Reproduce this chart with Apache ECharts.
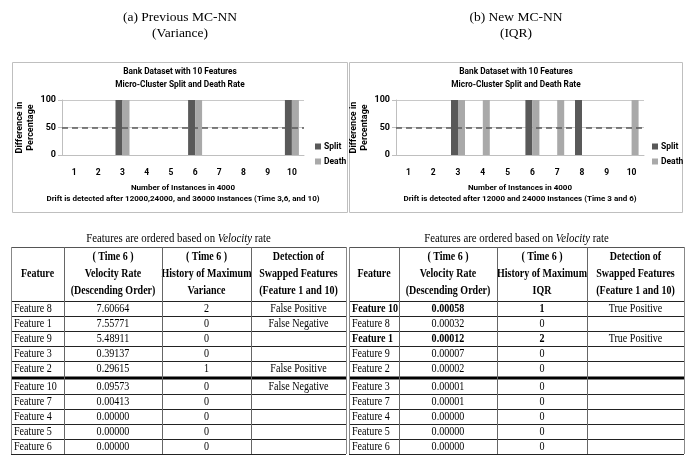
<!DOCTYPE html>
<html><head><meta charset="utf-8">
<script src="https://cdn.jsdelivr.net/npm/echarts@6/dist/echarts.min.js"></script>
<style>html,body{margin:0;padding:0;background:#fff}#c{width:697px;height:455px}</style>
</head><body><div id="c"></div>
<script>
// ---------- data ----------
const categories = ['1','2','3','4','5','6','7','8','9','10'];
const splitA = [0,0,100,0,0,100,0,0,0,100];
const deathA = [0,0,100,0,0,100,0,0,0,100];
const splitB = [0,0,100,0,0,100,0,100,0,0];
const deathB = [0,0,100,100,0,100,100,0,0,100];
const thresholdValue = 50;
const panelTitleA = ['(a) Previous MC-NN','(Variance)'];
const panelTitleB = ['(b) New MC-NN','(IQR)'];
const chartTitle = 'Bank Dataset with 10 Features\nMicro-Cluster Split and Death Rate';
const yName = 'Difference in\nPercentage';
const xNameA = 'Number of Instances in 4000\nDrift is detected after 12000,24000, and 36000 Instances (Time 3,6, and 10)';
const xNameB = 'Number of Instances in 4000\nDrift is detected after 12000 and 24000 Instances (Time 3 and 6)';

const headersA = [['Feature'],['( Time 6 )','Velocity Rate','(Descending Order)'],['( Time 6 )','History of Maximum','Variance'],['Detection of','Swapped Features','(Feature 1 and 10)']];
const headersB = [['Feature'],['( Time 6 )','Velocity Rate','(Descending Order)'],['( Time 6 )','History of Maximum','IQR'],['Detection of','Swapped Features','(Feature 1 and 10)']];
const featuresA = ['Feature 8','Feature 1','Feature 9','Feature 3','Feature 2','Feature 10','Feature 7','Feature 4','Feature 5','Feature 6'];
const velocityA = ['7.60664','7.55771','5.48911','0.39137','0.29615','0.09573','0.00413','0.00000','0.00000','0.00000'];
const historyA = ['2','0','0','0','1','0','0','0','0','0'];
const detectionA = ['False Positive','False Negative','','','False Positive','False Negative','','','',''];
const featuresB = ['Feature 10','Feature 8','Feature 1','Feature 9','Feature 2','Feature 3','Feature 7','Feature 4','Feature 5','Feature 6'];
const velocityB = ['0.00058','0.00032','0.00012','0.00007','0.00002','0.00001','0.00001','0.00000','0.00000','0.00000'];
const historyB = ['1','0','2','0','0','0','0','0','0','0'];
const detectionB = ['True Positive','','True Positive','','','','','','',''];
const boldRowsA = [];
const boldRowsB = [0,2];
const tableCaption = 'Features are ordered based on {i|Velocity} rate';

// ---------- layout ----------
const SANS = 'Roboto, "Liberation Sans", sans-serif';
const SERIF = '"Liberation Serif", "DejaVu Serif", serif';
const SPLIT_C = '#595959', DEATH_C = '#a9a9a9';
const SQUEEZE = 0.84, HEAD_SQUEEZE = 0.8;

const chart = echarts.init(document.getElementById('c'), null, {renderer:'canvas', width:697, height:455});

function axisPair(gi, xName){
  return {
    x: {gridIndex:gi, type:'category', data:categories,
      axisLine:{lineStyle:{color:'#bfbfbf'}},
      axisTick:{length:4, lineStyle:{color:'#bfbfbf'}},
      axisLabel:{color:'#000', fontFamily:SANS, fontWeight:'bold', fontSize:8.5, margin:13},
      name:xName, nameLocation:'middle', nameGap:27,
      nameTextStyle:{color:'#000', fontFamily:SANS, fontWeight:'bold', fontSize:8, lineHeight:11}},
    y: {gridIndex:gi, type:'value', min:0, max:100, interval:50,
      axisLine:{show:true, lineStyle:{color:'#bfbfbf'}},
      axisTick:{show:true, length:4, lineStyle:{color:'#bfbfbf'}},
      splitLine:{lineStyle:{color:'#c8c8c8'}},
      axisLabel:{color:'#000', fontFamily:SANS, fontWeight:'bold', fontSize:9, margin:6},
      name:yName, nameLocation:'middle', nameRotate:90, nameGap:23,
      nameTextStyle:{color:'#000', fontFamily:SANS, fontWeight:'bold', fontSize:9, lineHeight:11}}
  };
}
const pa = axisPair(0, xNameA), pb = axisPair(1, xNameB);

function bars(gi, split, death){
  return [
    {name:'Split', type:'bar', xAxisIndex:gi, yAxisIndex:gi, data:split, barWidth:7, barGap:'0%', itemStyle:{color:SPLIT_C},
     markLine:{silent:true, symbol:'none', label:{show:false}, lineStyle:{color:SPLIT_C, type:[6,4], width:1.5}, data:[{yAxis:thresholdValue}]}},
    {name:'Death', type:'bar', xAxisIndex:gi, yAxisIndex:gi, data:death, barWidth:7, barGap:'0%', itemStyle:{color:DEATH_C}}
  ];
}

function legend(left){
  return {data:['Split','Death'], orient:'vertical', left:left, top:137, itemWidth:6, itemHeight:6, itemGap:6,
    icon:'rect', textStyle:{color:'#000', fontFamily:SANS, fontWeight:'bold', fontSize:8.5, padding:[0,0,0,-2]}};
}

// ---------- graphics: panels, titles, tables ----------
const graphics = [];
function text(x, y, str, style, sx){
  graphics.push({type:'text', x:x, y:y, scaleX:sx||1, silent:true, style:Object.assign({text:str, textAlign:'center', textVerticalAlign:'middle', fill:'#000'}, style)});
}
function line(x1,y1,x2,y2,color,w){
  graphics.push({type:'line', silent:true, shape:{x1:x1,y1:y1,x2:x2,y2:y2}, style:{stroke:color, lineWidth:w||1}});
}
function panel(x, w, titles, cx){
  text(cx, 17, titles[0], {font:'13.5px '+SERIF});
  text(cx, 33, titles[1], {font:'13.5px '+SERIF});
  graphics.push({type:'rect', silent:true, shape:{x:x+0.5, y:62.5, width:w, height:150}, style:{fill:'none', stroke:'#bfbfbf', lineWidth:1}});
  text(cx, 78, chartTitle, {font:'bold 8.3px '+SANS, lineHeight:13});
}
panel(12, 335, panelTitleA, 180);
panel(349, 333, panelTitleB, 516);

function table(cols, headers, feats, vel, hist, det, boldRows){
  const top = 247, headH = 54, rowH = 15, thick = 3;
  const cx = i => (cols[i]+cols[i+1])/2;
  text((cols[0]+cols[4])/2, 239, tableCaption, {font:'12px '+SERIF, rich:{i:{fontStyle:'italic', fontFamily:SERIF, fontSize:12}}}, 0.9);
  headers.forEach((lines, c) => {
    const n = lines.length, lh = 17;
    lines.forEach((t, k) => text(cx(c), top + headH/2 + (k-(n-1)/2)*lh, t, {font:'bold 12.5px '+SERIF}, HEAD_SQUEEZE));
  });
  const rowY = [];
  let y = top + headH;
  for (let r = 0; r < feats.length; r++) {
    if (r === 5) y += thick;
    rowY.push(y);
    y += rowH;
  }
  const bottom = y;
  feats.forEach((f, r) => {
    const yc = rowY[r] + rowH/2 + 0.5;
    const b = boldRows.indexOf(r) >= 0 ? 'bold ' : '';
    text(cols[0]+3, yc, f, {font:b+'12px '+SERIF, textAlign:'left'}, SQUEEZE);
    text(cx(1), yc, vel[r], {font:b+'12px '+SERIF}, SQUEEZE);
    text(cx(2), yc, hist[r], {font:b+'12px '+SERIF}, SQUEEZE);
    text(cx(3), yc, det[r], {font:'12px '+SERIF}, SQUEEZE);
  });
  line(cols[0], top+0.5, cols[4], top+0.5, '#555');
  line(cols[0], top+headH+0.5, cols[4], top+headH+0.5, '#222');
  rowY.forEach((ry, r) => { if (r > 0 && r !== 5) line(cols[0], ry+0.5, cols[4], ry+0.5, '#222'); });
  line(cols[0], rowY[5]-thick/2+0.5, cols[4], rowY[5]-thick/2+0.5, '#000', thick);
  line(cols[0], bottom+0.5, cols[4], bottom+0.5, '#222');
  cols.forEach((x, i) => line(x+0.5, top, x+0.5, bottom, i===0||i===4 ? '#888' : '#666'));
}
table([11, 64, 162, 251, 346], headersA, featuresA, velocityA, historyA, detectionA, boldRowsA);
table([349, 399, 497, 587, 684], headersB, featuresB, velocityB, historyB, detectionB, boldRowsB);

chart.setOption({
  animation:false,
  backgroundColor:'#fff',
  grid:[{left:62, top:100, width:242, height:55}, {left:396, top:100, width:248, height:55}],
  xAxis:[pa.x, pb.x],
  yAxis:[pa.y, pb.y],
  legend:[legend(310), legend(647)],
  series:[].concat(bars(0, splitA, deathA), bars(1, splitB, deathB)),
  graphic:graphics
});
</script></body></html>
